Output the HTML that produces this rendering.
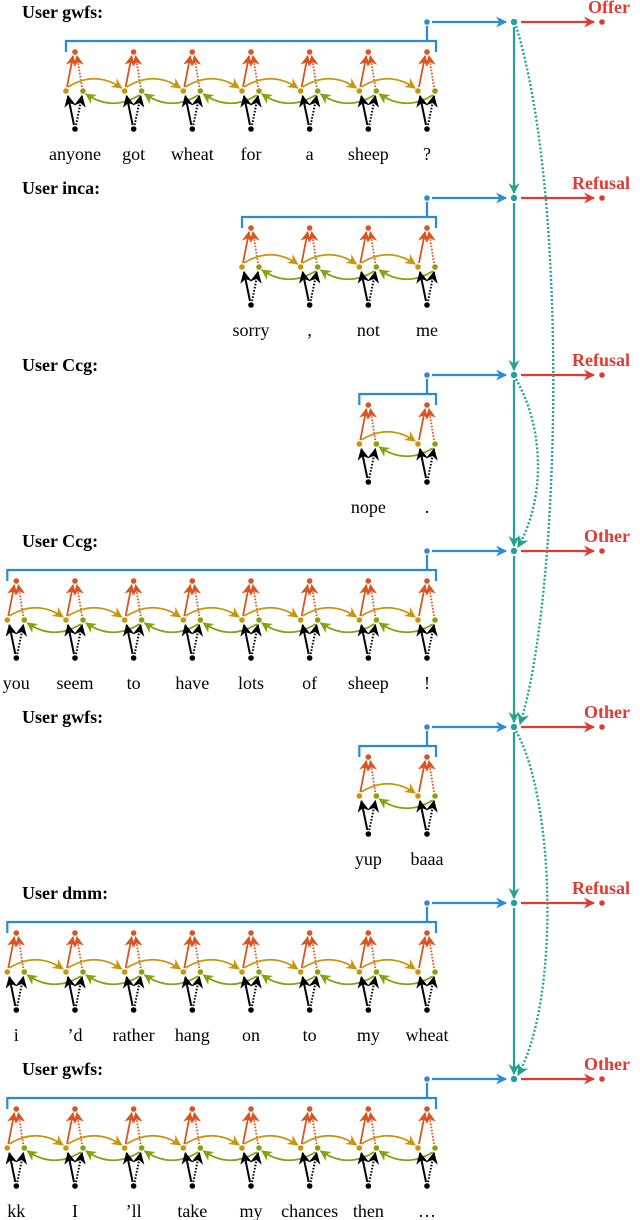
<!DOCTYPE html>
<html><head><meta charset="utf-8"><style>
html,body{margin:0;padding:0;background:#fff;width:640px;height:1220px;overflow:hidden}
svg{display:block}
text{font-family:"Liberation Serif",serif}
</style></head><body>
<svg id="s" width="640" height="1220" viewBox="0 0 640 1220" xmlns="http://www.w3.org/2000/svg">
<defs>
<marker id="mB" viewBox="0 0 10 10" refX="9" refY="5" markerWidth="5" markerHeight="5" orient="auto"><path d="M0,0 L10,5 L0,10 L3,5Z" fill="#2a8ad6"/></marker>
<marker id="mR" viewBox="0 0 10 10" refX="9" refY="5" markerWidth="5" markerHeight="5" orient="auto"><path d="M0,0 L10,5 L0,10 L3,5Z" fill="#e03a33"/></marker>
<marker id="mT" viewBox="0 0 10 10" refX="9" refY="5" markerWidth="5" markerHeight="5" orient="auto"><path d="M0,0 L10,5 L0,10 L3,5Z" fill="#26a090"/></marker>
<marker id="mO" viewBox="0 0 10 10" refX="9" refY="5" markerWidth="6" markerHeight="6" orient="auto"><path d="M0,0 L10,5 L0,10 L3,5Z" fill="#d9541e"/></marker>
<marker id="mG" viewBox="0 0 10 10" refX="9" refY="5" markerWidth="6" markerHeight="6" orient="auto"><path d="M0,0 L10,5 L0,10 L3,5Z" fill="#c8960c"/></marker>
<marker id="mL" viewBox="0 0 10 10" refX="9" refY="5" markerWidth="6" markerHeight="6" orient="auto"><path d="M0,0 L10,5 L0,10 L3,5Z" fill="#8aa010"/></marker>
<marker id="mK" viewBox="0 0 10 10" refX="9" refY="5" markerWidth="6" markerHeight="6" orient="auto"><path d="M0,0 L10,5 L0,10 L3,5Z" fill="#000"/></marker>
</defs>
<g id="g"></g>
</svg>
<script>
var blocks=[
 {D:22,h:"User gwfs:",lab:"Offer",w:["anyone","got","wheat","for","a","sheep","?"]},
 {D:198,h:"User inca:",lab:"Refusal",w:["sorry",",","not","me"]},
 {D:375,h:"User Ccg:",lab:"Refusal",w:["nope","."]},
 {D:551,h:"User Ccg:",lab:"Other",w:["you","seem","to","have","lots","of","sheep","!"]},
 {D:727,h:"User gwfs:",lab:"Other",w:["yup","baaa"]},
 {D:903,h:"User dmm:",lab:"Refusal",w:["i","’d","rather","hang","on","to","my","wheat"]},
 {D:1079,h:"User gwfs:",lab:"Other",w:["kk","I","’ll","take","my","chances","then","…"]}
];
var o="";
function dot(x,y,c,r){o+='<circle cx="'+x+'" cy="'+y+'" r="'+(r||2.8)+'" fill="'+c+'"/>';}
function line(x1,y1,x2,y2,c,m,dash,sw){o+='<line x1="'+x1+'" y1="'+y1+'" x2="'+x2+'" y2="'+y2+'" stroke="'+c+'" stroke-width="'+(sw||1.8)+'"'+(dash?' stroke-dasharray="1.6 1.6"':'')+(m?' marker-end="url(#'+m+')"':'')+'/>';}
function path(d,c,m,dash,sw){o+='<path d="'+d+'" fill="none" stroke="'+c+'" stroke-width="'+(sw||1.8)+'"'+(dash?' stroke-dasharray="2 2"':'')+(m?' marker-end="url(#'+m+')"':'')+'/>';}
var TX=514;
blocks.forEach(function(b,bi){
 var D=b.D,n=b.w.length;
 o+='<text x="22" y="'+(D-4)+'" font-size="18" font-weight="bold">'+b.h+'</text>';
 o+='<text x="630" y="'+(D-9)+'" font-size="18" font-weight="bold" fill="#e03a33" text-anchor="end">'+b.lab+'</text>';
 dot(427,D,"#2a8ad6");
 line(432,D,506,D,"#2a8ad6","mB",false,2.2);
 dot(TX,D,"#26a090",3.2);
 line(521,D,594,D,"#e03a33","mR",false,2.2);
 dot(602,D,"#e03a33");
 var cs=[];for(var i=0;i<n;i++)cs.push(427-58.67*(n-1-i));
 var L=cs[0]-9,By=D+19;
 path("M"+L+","+(D+30)+" L"+L+","+By+" L436,"+By+" L436,"+(D+30)+" M427,"+(D+4)+" L427,"+By,"#2a8ad6",null,false,2.2);
 cs.forEach(function(c,i){
  dot(c,D+30,"#d9541e");dot(c-9,D+69,"#c8960c");dot(c+8,D+69,"#8aa010");dot(c,D+107,"#000");
  line(c-1,D+103,c-7,D+74,"#000","mK",false,2);
  line(c+1,D+103,c+7,D+74,"#000","mK",true,2);
  line(c-8,D+65,c-2,D+34,"#d9541e","mO");
  line(c+7,D+65,c+2,D+34,"#d9541e","mO",true);
  if(i<n-1){var c2=cs[i+1];
   path("M"+(c-7)+","+(D+65)+" Q"+((c+c2)/2-9)+","+(D+48)+" "+(c2-12)+","+(D+66),"#c8960c","mG");
   path("M"+(c2+6)+","+(D+73)+" Q"+((c+c2)/2+8)+","+(D+90)+" "+(c+11)+","+(D+72),"#8aa010","mL");
  }
  o+='<text x="'+c+'" y="'+(D+138)+'" font-size="18" text-anchor="middle">'+b.w[i]+'</text>';
 });
 if(bi<blocks.length-1) line(TX,D+5,TX,blocks[bi+1].D-5,"#26a090","mT",false,2.2);
});
path("M516,26 C570,200 560,600 520,724","#26a090","mT",true,2.4);
path("M516,379 C545,430 545,500 518,547","#26a090","mT",true,2.4);
path("M516,731 C555,800 560,1000 518,1075","#26a090","mT",true,2.4);
document.getElementById("g").innerHTML=o;
</script>
</body></html>
